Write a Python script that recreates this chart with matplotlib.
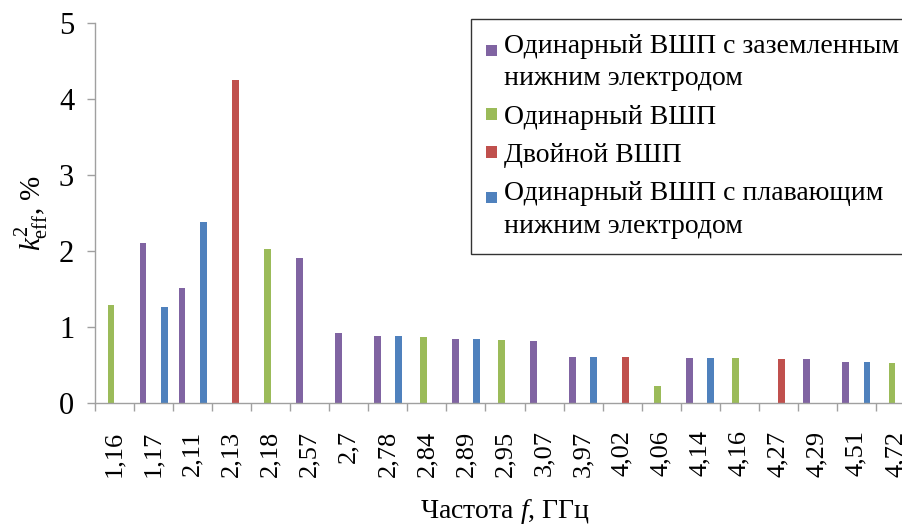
import numpy as np
import matplotlib
matplotlib.use("Agg")
import matplotlib.pyplot as plt
from matplotlib.ticker import FixedLocator
from matplotlib.legend_handler import HandlerPatch
from matplotlib.patches import Rectangle

plt.rcParams['font.family'] = ['Liberation Serif', 'DejaVu Serif']
plt.rcParams['mathtext.fontset'] = 'custom'
plt.rcParams['mathtext.rm'] = 'Liberation Serif'
plt.rcParams['mathtext.it'] = 'Liberation Serif:italic'

categories = ["1,16", "1,17", "2,11", "2,13", "2,18", "2,57", "2,7", "2,78", "2,84", "2,89",
              "2,95", "3,07", "3,97", "4,02", "4,06", "4,14", "4,16", "4,27", "4,29", "4,51", "4,72"]

series_names = ["Одинарный ВШП с заземленным\nнижним электродом",
                "Одинарный ВШП",
                "Двойной ВШП",
                "Одинарный ВШП с плавающим\nнижним электродом"]
colors = ["#8064A2", "#9BBB59", "#C0504D", "#4F81BD"]

grounded = [0, 2.10, 1.51, 0, 0, 1.91, 0.92, 0.88, 0, 0.84, 0, 0.81, 0.605, 0, 0, 0.59, 0, 0, 0.57, 0.535, 0]
single   = [1.28, 0, 0, 0, 2.02, 0, 0, 0, 0.86, 0, 0.825, 0, 0, 0, 0.224, 0, 0.59, 0, 0, 0, 0.52]
double   = [0, 0, 0, 4.24, 0, 0, 0, 0, 0, 0, 0, 0, 0, 0.605, 0, 0, 0, 0.57, 0, 0, 0]
floating = [0, 1.26, 2.38, 0, 0, 0, 0, 0.88, 0, 0.84, 0, 0, 0.605, 0, 0, 0.59, 0, 0, 0, 0.535, 0]

series = [grounded, single, double, floating]

fig = plt.figure(figsize=(9.02, 5.26), dpi=100)
ax = fig.add_axes([95/902, 1 - 402.7/526, 820/902, (402.7 - 22.7)/526])

x = np.arange(len(categories))
slot = 0.18
width = 0.175
for i, (vals, name, c) in enumerate(zip(series, series_names, colors)):
    ax.bar(x + (i - 1.5) * slot, vals, width=width, color=c, label=name)

ax.set_xlim(-0.5, len(categories) - 0.5)
ax.set_ylim(0, 5)
ax.set_yticks([0, 1, 2, 3, 4, 5])
ax.tick_params(axis='y', labelsize=22, length=6, color='#A0A0A0', width=1, pad=9)

ax.set_xticks(x)
ax.set_xticklabels(categories, rotation=90, fontsize=19)
ax.tick_params(axis='x', which='major', length=0, pad=20)
ax.xaxis.set_minor_locator(FixedLocator(np.arange(-0.5, len(categories), 1.0)))
ax.tick_params(axis='x', which='minor', length=6, color='#A0A0A0', width=1)

for s in ['top', 'right']:
    ax.spines[s].set_visible(False)
for s in ['left', 'bottom']:
    ax.spines[s].set_color('#A0A0A0')
    ax.spines[s].set_linewidth(1)

fig.text(505/902, 1 - 511/526, "Частота $f$, ГГц", fontsize=20, ha='center', va='center')
ax.set_ylabel("$k^2_{\\mathrm{eff}}$, %", fontsize=21, labelpad=6)

handles = [Rectangle((0, 0), 1, 1, facecolor=c, edgecolor='none') for c in colors]
handler_map = {}
for h, name in zip(handles, series_names):
    ypad = 0.85 if "\n" in name else 0.0
    handler_map[h] = HandlerPatch(ypad=ypad)

leg = fig.legend(handles=handles, labels=series_names, handler_map=handler_map,
                 loc='upper left', bbox_to_anchor=(471/902, 1 - 19/526),
                 fontsize=20, frameon=True, fancybox=False, edgecolor='black',
                 handlelength=0.38, handleheight=0.3, handletextpad=0.25,
                 labelspacing=0.48, borderpad=0.55, borderaxespad=0)
leg.get_frame().set_linewidth(1.0)
for t in leg.get_texts():
    t.set_linespacing(1.38)

fig.savefig("out.png", dpi=100)
